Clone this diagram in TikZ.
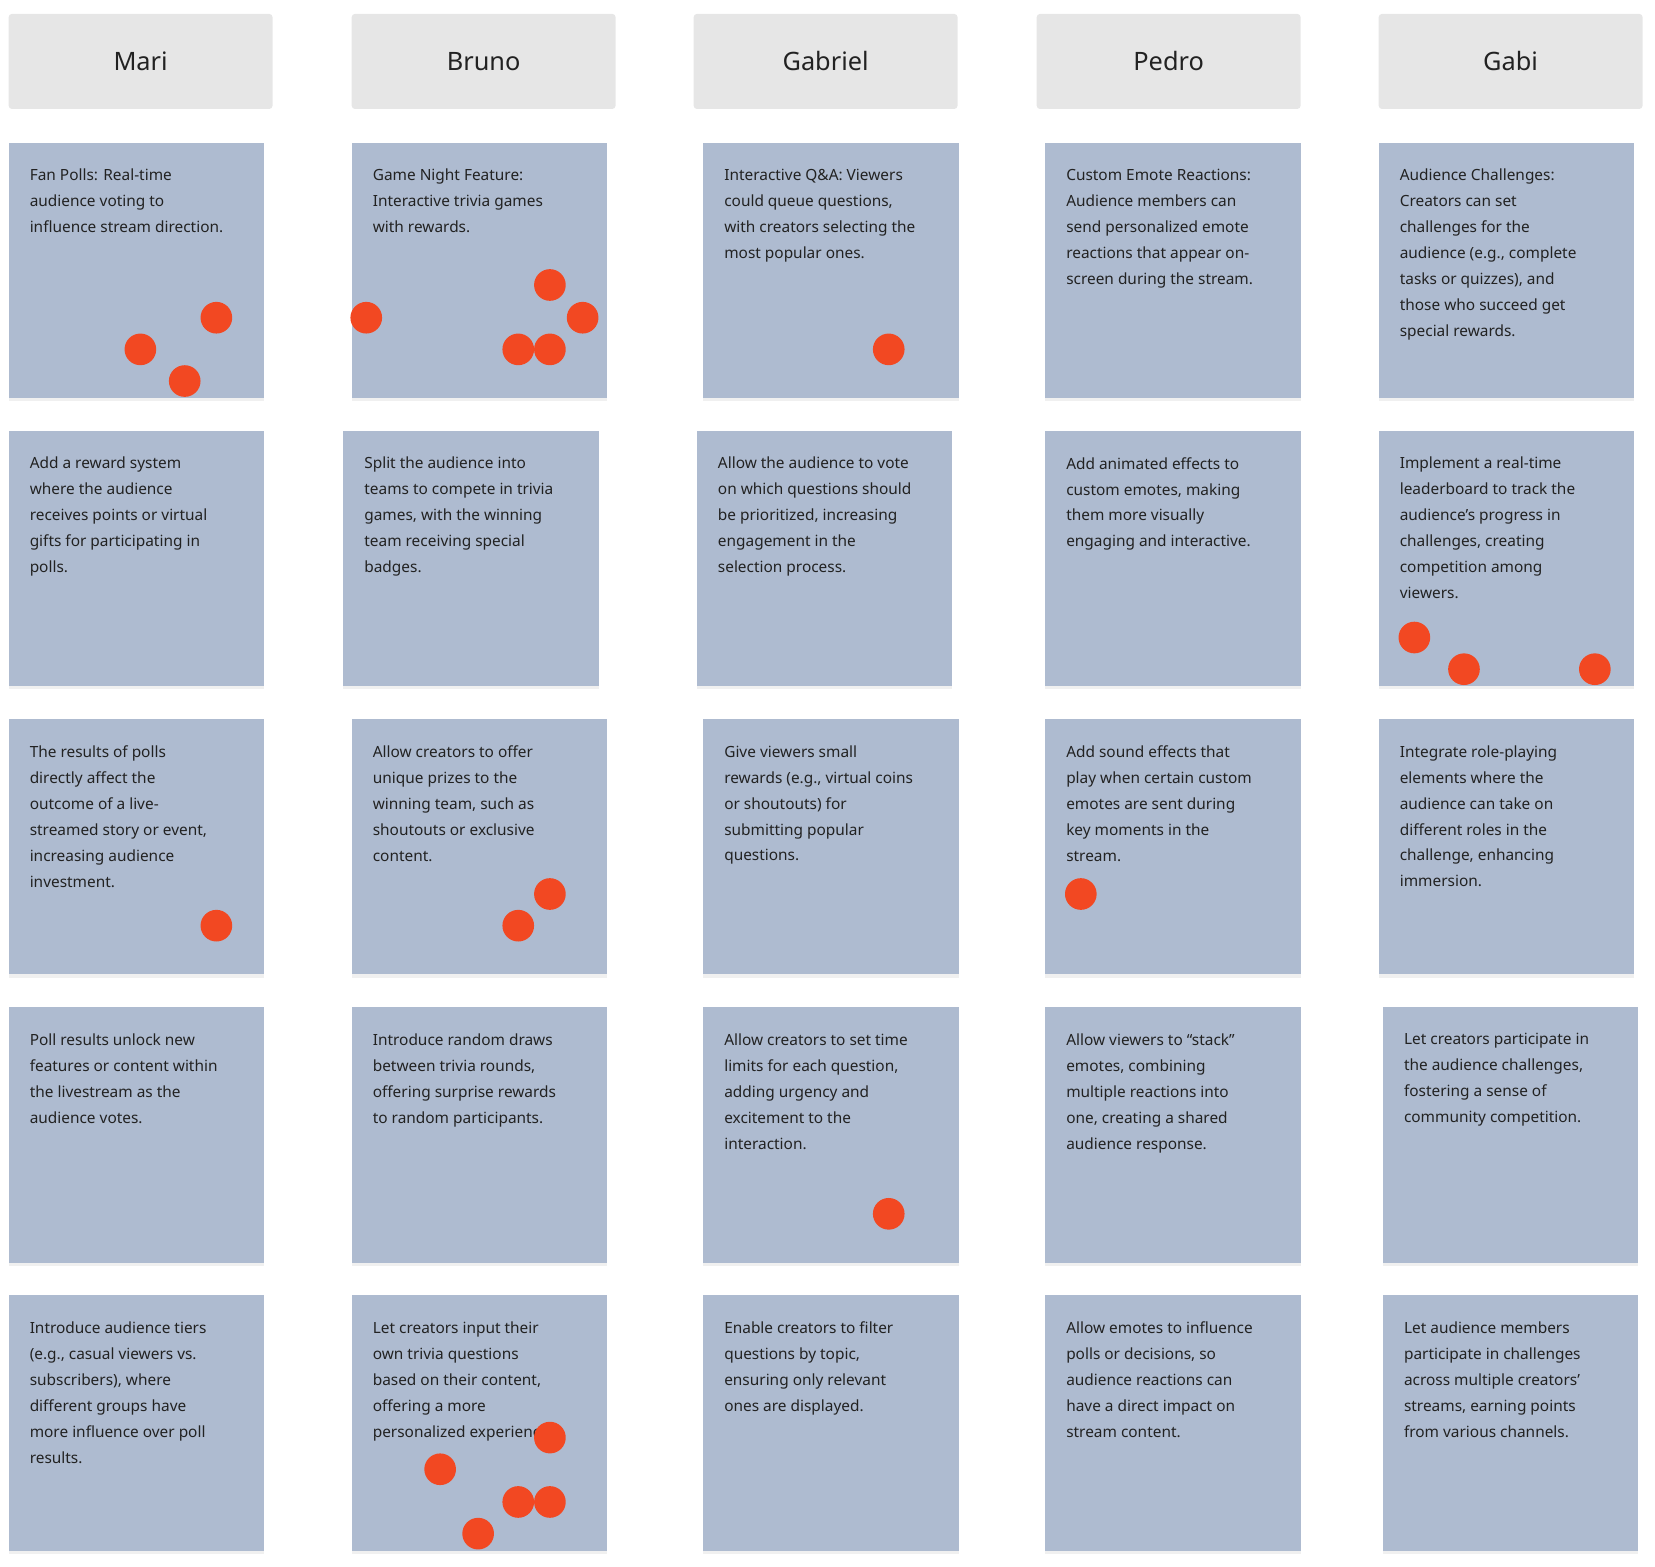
\documentclass[tikz,border=0pt]{standalone}
\usepackage{fontspec}
\setmainfont{Noto Sans}
\usetikzlibrary{shadows}
\definecolor{cardc}{HTML}{AEBBD0}
\definecolor{headc}{HTML}{E6E6E6}
\definecolor{dotc}{HTML}{F24822}
\definecolor{txt}{HTML}{222222}
\tikzset{
 head/.style={fill=headc,rounded corners=3pt,minimum width=250pt,minimum height=90pt,anchor=north west,font=\fontsize{24}{28}\selectfont,text=txt},
 card/.style={fill=cardc,minimum width=242pt,minimum height=242pt,anchor=north west,drop shadow={opacity=0.12,shadow xshift=0pt,shadow yshift=-3pt}},
 ctext/.style={anchor=north west,align=left,inner sep=0pt,font=\fontsize{14.6}{24.6}\selectfont,text=txt},
 dot/.style={circle,fill=dotc,minimum size=30pt,inner sep=0pt}
}
\newcommand{\mycard}[4]{%
 \node[card] (#1) at (#2,-#3) {};
 \node[ctext] (#1t) at (#2+20,-#3-25) {#4};}
\begin{document}
\begin{tikzpicture}[x=1pt,y=1pt]
\useasboundingbox (0,0) rectangle (1568,-1484);
\node[head] (h1) at (8,-13) {Mari};
\node[head] (h2) at (333,-13) {Bruno};
\node[head] (h3) at (657,-13) {Gabriel};
\node[head] (h4) at (982,-13) {Pedro};
\node[head] (h5) at (1306,-13) {Gabi};
% Mari
\mycard{a1}{8}{135}{Fan Polls: Real-time\\audience voting to\\influence stream direction.}
\mycard{a2}{8}{408}{Add a reward system\\where the audience\\receives points or virtual\\gifts for participating in\\polls.}
\mycard{a3}{8}{681}{The results of polls\\directly affect the\\outcome of a live-\\streamed story or event,\\increasing audience\\investment.}
\mycard{a4}{8}{954}{Poll results unlock new\\features or content within\\the livestream as the\\audience votes.}
\mycard{a5}{8}{1227}{Introduce audience tiers\\(e.g., casual viewers vs.\\subscribers), where\\different groups have\\more influence over poll\\results.}
% Bruno
\mycard{b1}{333}{135}{Game Night Feature:\\Interactive trivia games\\with rewards.}
\mycard{b2}{325}{408}{Split the audience into\\teams to compete in trivia\\games, with the winning\\team receiving special\\badges.}
\mycard{b3}{333}{681}{Allow creators to offer\\unique prizes to the\\winning team, such as\\shoutouts or exclusive\\content.}
\mycard{b4}{333}{954}{Introduce random draws\\between trivia rounds,\\offering surprise rewards\\to random participants.}
\mycard{b5}{333}{1227}{Let creators input their\\own trivia questions\\based on their content,\\offering a more\\personalized experience.}
% Gabriel
\mycard{c1}{666}{135}{Interactive Q\&A: Viewers\\could queue questions,\\with creators selecting the\\most popular ones.}
\mycard{c2}{660}{408}{Allow the audience to vote\\on which questions should\\be prioritized, increasing\\engagement in the\\selection process.}
\mycard{c3}{666}{681}{Give viewers small\\rewards (e.g., virtual coins\\or shoutouts) for\\submitting popular\\questions.}
\mycard{c4}{666}{954}{Allow creators to set time\\limits for each question,\\adding urgency and\\excitement to the\\interaction.}
\mycard{c5}{666}{1227}{Enable creators to filter\\questions by topic,\\ensuring only relevant\\ones are displayed.}
% Pedro
\mycard{d1}{990}{135}{Custom Emote Reactions:\\Audience members can\\send personalized emote\\reactions that appear on-\\screen during the stream.}
\mycard{d2}{990}{408}{Add animated effects to\\custom emotes, making\\them more visually\\engaging and interactive.}
\mycard{d3}{990}{681}{Add sound effects that\\play when certain custom\\emotes are sent during\\key moments in the\\stream.}
\mycard{d4}{990}{954}{Allow viewers to “stack”\\emotes, combining\\multiple reactions into\\one, creating a shared\\audience response.}
\mycard{d5}{990}{1227}{Allow emotes to influence\\polls or decisions, so\\audience reactions can\\have a direct impact on\\stream content.}
% Gabi
\mycard{e1}{1306}{135}{Audience Challenges:\\Creators can set\\challenges for the\\audience (e.g., complete\\tasks or quizzes), and\\those who succeed get\\special rewards.}
\mycard{e2}{1306}{408}{Implement a real-time\\leaderboard to track the\\audience’s progress in\\challenges, creating\\competition among\\viewers.}
\mycard{e3}{1306}{681}{Integrate role-playing\\elements where the\\audience can take on\\different roles in the\\challenge, enhancing\\immersion.}
\mycard{e4}{1310}{954}{Let creators participate in\\the audience challenges,\\fostering a sense of\\community competition.}
\mycard{e5}{1310}{1227}{Let audience members\\participate in challenges\\across multiple creators’\\streams, earning points\\from various channels.}
% dots
\foreach \n/\x/\y in {p1/205/301,p2/133/331,p3/175/361,p4/205/877,
 p5/347/301,p6/521/270,p7/552/301,p8/491/331,p9/521/331,p10/521/847,p11/491/877,
 p12/521/1362,p13/417/1392,p14/491/1423,p15/521/1423,p16/453/1453,
 p17/842/331,p18/842/1150,p19/1024/847,p20/1340/604,p21/1387/634,p22/1511/634}
 \node[dot] (\n) at (\x,-\y) {};
\end{tikzpicture}
\end{document}
